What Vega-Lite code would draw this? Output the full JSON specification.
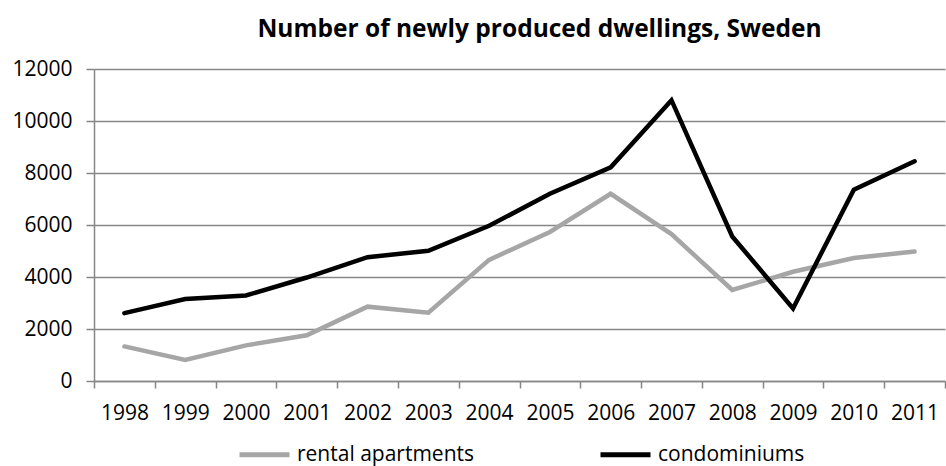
{
  "$schema": "https://vega.github.io/schema/vega-lite/v6.json",
  "autosize": {"type": "none"},
  "width": 851,
  "height": 312,
  "padding": {"left": 94, "top": 69, "right": 1, "bottom": 85},
  "background": "#ffffff",
  "title": {
    "text": "Number of newly produced dwellings, Sweden",
    "font": "Open Sans",
    "fontSize": 24.5,
    "fontWeight": "bold",
    "color": "#000000",
    "anchor": "middle",
    "dx": 20,
    "offset": 16
  },
  "data": {
    "values": [
      {"year": "1998", "type": "rental apartments", "dwellings": 1330},
      {"year": "1999", "type": "rental apartments", "dwellings": 810},
      {"year": "2000", "type": "rental apartments", "dwellings": 1370},
      {"year": "2001", "type": "rental apartments", "dwellings": 1760},
      {"year": "2002", "type": "rental apartments", "dwellings": 2860},
      {"year": "2003", "type": "rental apartments", "dwellings": 2630},
      {"year": "2004", "type": "rental apartments", "dwellings": 4660},
      {"year": "2005", "type": "rental apartments", "dwellings": 5730},
      {"year": "2006", "type": "rental apartments", "dwellings": 7200},
      {"year": "2007", "type": "rental apartments", "dwellings": 5650},
      {"year": "2008", "type": "rental apartments", "dwellings": 3500},
      {"year": "2009", "type": "rental apartments", "dwellings": 4200},
      {"year": "2010", "type": "rental apartments", "dwellings": 4730},
      {"year": "2011", "type": "rental apartments", "dwellings": 4980},
      {"year": "1998", "type": "condominiums", "dwellings": 2610},
      {"year": "1999", "type": "condominiums", "dwellings": 3150},
      {"year": "2000", "type": "condominiums", "dwellings": 3290},
      {"year": "2001", "type": "condominiums", "dwellings": 3980},
      {"year": "2002", "type": "condominiums", "dwellings": 4760},
      {"year": "2003", "type": "condominiums", "dwellings": 5010},
      {"year": "2004", "type": "condominiums", "dwellings": 5970},
      {"year": "2005", "type": "condominiums", "dwellings": 7200},
      {"year": "2006", "type": "condominiums", "dwellings": 8220},
      {"year": "2007", "type": "condominiums", "dwellings": 10800},
      {"year": "2008", "type": "condominiums", "dwellings": 5560},
      {"year": "2009", "type": "condominiums", "dwellings": 2790},
      {"year": "2010", "type": "condominiums", "dwellings": 7360},
      {"year": "2011", "type": "condominiums", "dwellings": 8450}
    ]
  },
  "mark": {"type": "line", "strokeWidth": 4.5, "strokeCap": "round", "strokeJoin": "miter"},
  "encoding": {
    "x": {
      "field": "year",
      "type": "ordinal",
      "bandPosition": 0.5,
      "scale": {"type": "band", "paddingInner": 0, "paddingOuter": 0},
      "axis": {
        "title": null,
        "labelAngle": 0,
        "tickBand": "extent",
        "tickSize": 7,
        "labelPadding": 14,
        "domainColor": "#868686",
        "domainWidth": 1.5,
        "tickColor": "#868686",
        "tickWidth": 1.5,
        "labelFont": "Open Sans",
        "labelFontSize": 21,
        "labelColor": "#000000",
        "grid": false
      }
    },
    "y": {
      "field": "dwellings",
      "type": "quantitative",
      "scale": {"domain": [0, 12000], "nice": false},
      "axis": {
        "title": null,
        "values": [0, 2000, 4000, 6000, 8000, 10000, 12000],
        "format": "d",
        "tickSize": 8,
        "labelPadding": 14,
        "domainColor": "#868686",
        "domainWidth": 1.5,
        "tickColor": "#868686",
        "tickWidth": 1.5,
        "grid": true,
        "gridColor": "#868686",
        "gridWidth": 1.5,
        "labelFont": "Open Sans",
        "labelFontSize": 21,
        "labelColor": "#000000"
      }
    },
    "color": {
      "field": "type",
      "type": "nominal",
      "sort": ["rental apartments", "condominiums"],
      "scale": {"domain": ["rental apartments", "condominiums"], "range": ["#a6a6a6", "#000000"]},
      "legend": {
        "title": null,
        "orient": "none",
        "direction": "horizontal",
        "legendX": 143,
        "legendY": 358,
        "symbolType": "stroke",
        "symbolSize": 2500,
        "symbolStrokeWidth": 5,
        "labelOffset": 5,
        "columnPadding": 115,
        "labelFont": "Open Sans",
        "labelFontSize": 21,
        "labelColor": "#000000",
        "labelLimit": 400
      }
    }
  },
  "config": {
    "font": "Open Sans",
    "view": {"stroke": null}
  }
}
